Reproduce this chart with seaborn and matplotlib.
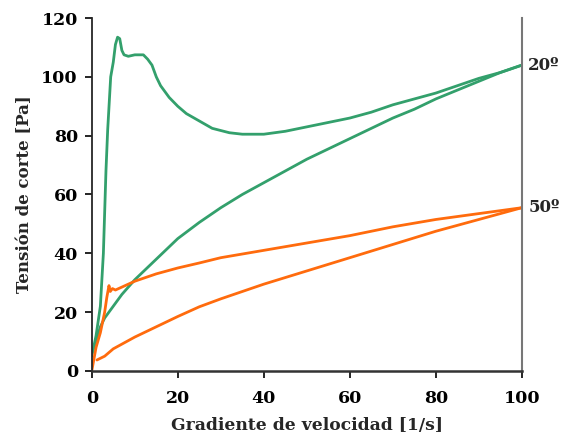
import matplotlib
matplotlib.use("Agg")
import matplotlib.pyplot as plt
import seaborn as sns
import pandas as pd

# Data
green_up_x = [0, 1, 2, 2.7, 3.3, 3.7, 4.4, 5, 5.5, 6, 6.5, 7, 7.5, 8.5, 10, 12, 13, 14, 15, 16, 18, 20,
              22, 25, 28, 32, 35, 40, 45, 50, 55, 60, 65, 70, 75, 80, 85, 90, 95, 100]
green_up_y = [5, 12, 22, 40, 68, 82, 100, 105, 111, 113.5, 113, 109, 107.5, 107, 107.5, 107.5, 106, 104, 100,
              97, 93, 90, 87.5, 85, 82.5, 81, 80.5, 80.5, 81.5, 83, 84.5, 86, 88, 90.5, 92.5, 94.5, 97, 99.5, 101.5, 104]
green_down_x = [0, 1, 2, 3, 5, 7, 10, 15, 20, 25, 30, 35, 40, 45, 50, 55, 60, 65, 70, 75, 80, 85, 90, 95, 100]
green_down_y = [6, 10, 15, 18, 22, 26, 31, 38, 45, 50.5, 55.5, 60, 64, 68, 72, 75.5, 79, 82.5, 86, 89, 92.5,
                95.5, 98.5, 101.5, 104]
orange_up_x = [0, 1, 2, 3, 3.5, 4, 4.3, 4.8, 5.5, 7, 10, 15, 20, 25, 30, 40, 50, 60, 70, 80, 90, 100]
orange_up_y = [0, 8, 13, 20, 25, 29, 27, 28, 27.5, 28.5, 30.5, 33, 35, 36.7, 38.5, 41, 43.5, 46, 49, 51.5, 53.5, 55.5]
orange_down_x = [1.2, 3, 5, 10, 15, 20, 25, 30, 40, 50, 60, 70, 80, 90, 100]
orange_down_y = [3.7, 5, 7.5, 11.5, 15, 18.5, 21.8, 24.5, 29.5, 34, 38.5, 43, 47.5, 51.5, 55.5]

series_labels = ["20º", "50º"]
x_ticks = [0, 20, 40, 60, 80, 100]
y_ticks = [0, 20, 40, 60, 80, 100, 120]

sns.set_style("ticks")
plt.rcParams['font.family'] = ['DejaVu Serif']
plt.rcParams['font.weight'] = 'bold'

GREEN = "#33a06c"
ORANGE = "#ff6b0d"

fig = plt.figure(figsize=(5.63, 4.41), dpi=100)
ax = fig.add_axes([0.163, 0.159, 0.764, 0.800])

curves = [
    (green_up_x, green_up_y, GREEN),
    (green_down_x, green_down_y, GREEN),
    (orange_up_x, orange_up_y, ORANGE),
    (orange_down_x, orange_down_y, ORANGE),
]
for xs, ys, c in curves:
    df = pd.DataFrame({"x": xs, "y": ys})
    sns.lineplot(data=df, x="x", y="y", sort=False, estimator=None, color=c, lw=2.0, ax=ax)

ax.set_xlim(0, 100)
ax.set_ylim(0, 120)
ax.set_xticks(x_ticks)
ax.set_yticks(y_ticks)
ax.tick_params(axis='both', labelsize=12.5, direction='out', length=5, width=1.2, colors='black', pad=5)
ax.tick_params(axis='x', pad=9)
for lab in ax.get_xticklabels() + ax.get_yticklabels():
    lab.set_fontweight('bold')
ax.set_xlabel("Gradiente de velocidad [1/s]", fontsize=12.3, fontweight='bold', labelpad=7)
ax.set_ylabel("Tensión de corte [Pa]", fontsize=12, fontweight='bold', labelpad=6)

ax.spines['top'].set_visible(False)
ax.spines['right'].set_visible(True)
ax.spines['right'].set_color('#777777')
ax.spines['right'].set_linewidth(1.5)
ax.spines['left'].set_linewidth(1.3)
ax.spines['bottom'].set_linewidth(1.8)
ax.spines['bottom'].set_color('#333333')

ax.text(101.5, green_up_y[-1], series_labels[0], fontsize=12, fontweight='bold', va='center', ha='left', clip_on=False)
ax.text(101.5, orange_up_y[-1], series_labels[1], fontsize=12, fontweight='bold', va='center', ha='left', clip_on=False)

fig.savefig("out.png", dpi=100)
